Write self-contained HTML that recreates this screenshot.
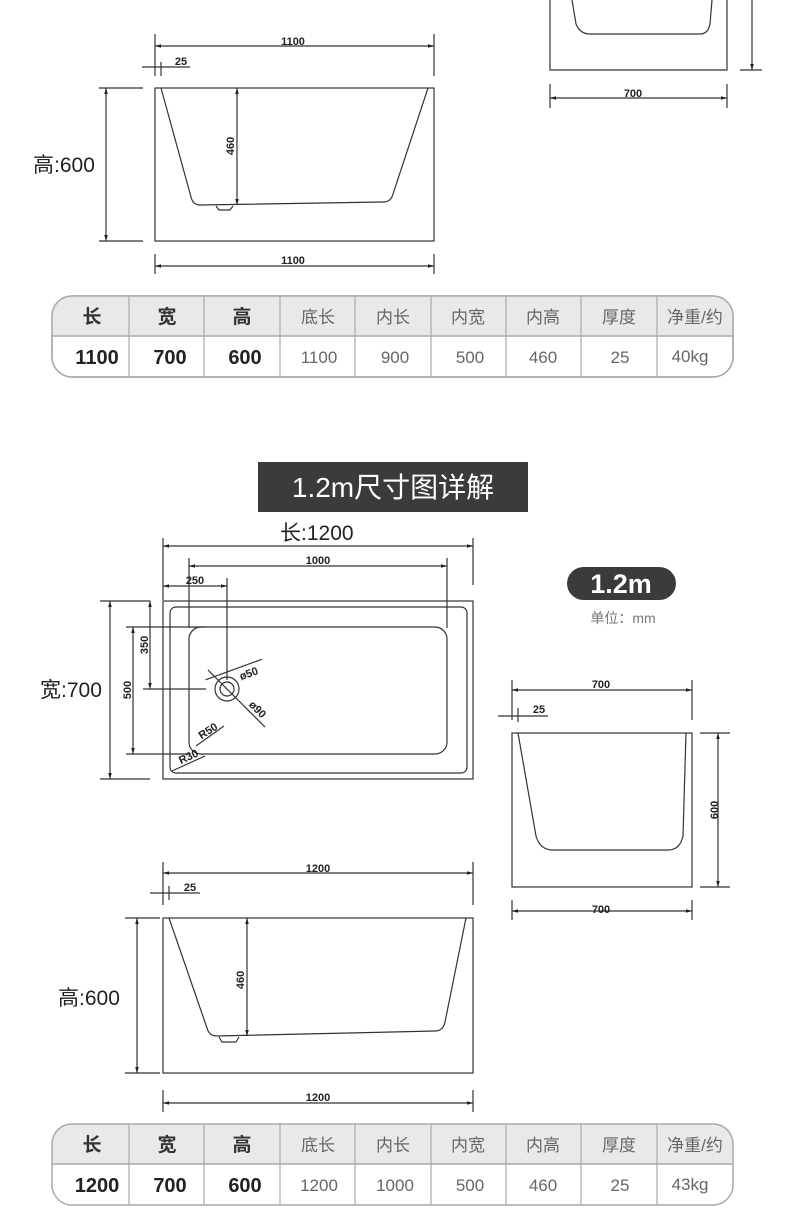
<!DOCTYPE html>
<html><head><meta charset="utf-8"><style>
html,body{margin:0;padding:0;background:#fff}
svg{display:block}
.d{font-family:"Liberation Sans",sans-serif;font-weight:bold;font-size:11px;fill:#222}
.lbl{font-family:"Liberation Sans","Noto Sans CJK SC",sans-serif;font-size:21px;fill:#222}
.th{font-family:"Liberation Sans","Noto Sans CJK SC",sans-serif;font-size:17px;fill:#666}
.thb{font-family:"Liberation Sans","Noto Sans CJK SC",sans-serif;font-size:19px;font-weight:bold;fill:#333}
.tdb{font-family:"Liberation Sans",sans-serif;font-size:20px;font-weight:bold;fill:#222}
.td{font-family:"Liberation Sans",sans-serif;font-size:17px;fill:#666}
</style></head><body>
<svg width="790" height="1222" viewBox="0 0 790 1222" xmlns="http://www.w3.org/2000/svg">
<defs><marker id="a" viewBox="0 0 10 10" refX="10" refY="5" markerWidth="5" markerHeight="5" orient="auto-start-reverse"><path d="M0,2 L10,5 L0,8z" fill="#222"/></marker></defs>
<g stroke="#333" stroke-width="1.2" fill="none">
<!-- top right partial -->
<path d="M550,0 V70 H727 V0"/>
<path d="M572,0 L576,24 Q580,34 590,34 H700 Q708,34 710,24 L712,0"/>
<line x1="752" y1="0" x2="752" y2="70" marker-end="url(#a)"/>
<line x1="740" y1="70" x2="762" y2="70"/>
<line x1="550" y1="84" x2="550" y2="108"/><line x1="727" y1="84" x2="727" y2="108"/>
<line x1="550" y1="98" x2="727" y2="98" marker-start="url(#a)" marker-end="url(#a)"/>
<!-- top side view 1100 -->
<line x1="155" y1="34" x2="155" y2="76"/><line x1="434" y1="34" x2="434" y2="76"/>
<line x1="155" y1="46" x2="434" y2="46" marker-start="url(#a)" marker-end="url(#a)"/>
<line x1="142" y1="67" x2="190" y2="67"/><line x1="161" y1="62" x2="161" y2="76"/>
<rect x="155" y="88" width="279" height="153"/>
<path d="M161,88 L191,197 Q193,205 200,205 L383,202 Q391,202 393,194 L428,88"/>
<path d="M216,206 L219,210 H230 L233,206"/>
<line x1="237" y1="88" x2="237" y2="205" marker-start="url(#a)" marker-end="url(#a)"/>
<line x1="99" y1="88" x2="143" y2="88"/><line x1="99" y1="241" x2="143" y2="241"/>
<line x1="106" y1="88" x2="106" y2="241" marker-start="url(#a)" marker-end="url(#a)"/>
<line x1="155" y1="254" x2="155" y2="274"/><line x1="434" y1="254" x2="434" y2="274"/>
<line x1="155" y1="266" x2="434" y2="266" marker-start="url(#a)" marker-end="url(#a)"/>
</g>
<text class="d" x="293" y="45" text-anchor="middle">1100</text>
<text class="d" x="181" y="65" text-anchor="middle">25</text>
<text class="d" x="633" y="97" text-anchor="middle">700</text>
<text class="d" transform="translate(234,146) rotate(-90)" text-anchor="middle">460</text>
<text class="d" x="293" y="264" text-anchor="middle">1100</text>
<text class="lbl" x="33" y="172">高:600</text>

<!-- table 1 -->
<g>
<rect x="52" y="296" width="681" height="81" rx="20" fill="#fff" stroke="#aaa" stroke-width="1.5"/>
<path d="M72,296 H713 Q733,296 733,316 V336 H52 V316 Q52,296 72,296z" fill="#e9e9e9"/>
<rect x="52" y="296" width="681" height="81" rx="20" fill="none" stroke="#aaa" stroke-width="1.5"/>
<line x1="52" y1="336" x2="733" y2="336" stroke="#aaa" stroke-width="1.5"/>
<g stroke="#aaa" stroke-width="1.2"><line x1="129" y1="296" x2="129" y2="377"/><line x1="204" y1="296" x2="204" y2="377"/><line x1="280" y1="296" x2="280" y2="377"/><line x1="355" y1="296" x2="355" y2="377"/><line x1="431" y1="296" x2="431" y2="377"/><line x1="506" y1="296" x2="506" y2="377"/><line x1="581" y1="296" x2="581" y2="377"/><line x1="657" y1="296" x2="657" y2="377"/></g>
<g text-anchor="middle">
<text class="thb" x="92" y="323">长</text><text class="thb" x="167" y="323">宽</text><text class="thb" x="242" y="323">高</text>
<text class="th" x="318" y="323">底长</text><text class="th" x="393" y="323">内长</text><text class="th" x="468" y="323">内宽</text><text class="th" x="543" y="323">内高</text><text class="th" x="619" y="323">厚度</text><text class="th" x="695" y="323">净重/约</text>
<text class="tdb" x="97" y="364">1100</text><text class="tdb" x="170" y="364">700</text><text class="tdb" x="245" y="364">600</text>
<text class="td" x="319" y="363">1100</text><text class="td" x="395" y="363">900</text><text class="td" x="470" y="363">500</text><text class="td" x="543" y="363">460</text><text class="td" x="620" y="363">25</text><text class="td" x="690" y="362" font-size="15">40kg</text>
</g></g>

<!-- title -->
<rect x="258" y="462" width="270" height="50" fill="#3b3b3b"/>
<text x="393" y="497" text-anchor="middle" font-family="Liberation Sans,Noto Sans CJK SC,sans-serif" font-size="28" fill="#fff">1.2m尺寸图详解</text>
<text class="lbl" x="280" y="540">长:1200</text>

<g stroke="#333" stroke-width="1.2" fill="none">
<line x1="163" y1="538" x2="163" y2="600"/><line x1="473" y1="538" x2="473" y2="585"/>
<line x1="163" y1="546" x2="473" y2="546" marker-start="url(#a)" marker-end="url(#a)"/>
<line x1="189" y1="558" x2="189" y2="628"/><line x1="447" y1="558" x2="447" y2="628"/>
<line x1="189" y1="566" x2="447" y2="566" marker-start="url(#a)" marker-end="url(#a)"/>
<line x1="227" y1="578" x2="227" y2="680"/>
<line x1="163" y1="586" x2="227" y2="586" marker-start="url(#a)" marker-end="url(#a)"/>
<rect x="163" y="601" width="310" height="178"/>
<rect x="170" y="607" width="297" height="166" rx="6"/>
<rect x="189" y="627" width="258" height="127" rx="12"/>
<circle cx="227" cy="689" r="12"/><circle cx="227" cy="689" r="7"/>
<line x1="100" y1="601" x2="150" y2="601"/><line x1="100" y1="779" x2="150" y2="779"/>
<line x1="110" y1="601" x2="110" y2="779" marker-start="url(#a)" marker-end="url(#a)"/>
<line x1="150" y1="601" x2="150" y2="689" marker-start="url(#a)" marker-end="url(#a)"/>
<line x1="143" y1="689" x2="206" y2="689"/>
<line x1="126" y1="627" x2="205" y2="627"/><line x1="126" y1="754" x2="190" y2="754"/>
<line x1="133" y1="627" x2="133" y2="754" marker-start="url(#a)" marker-end="url(#a)"/>
<line x1="210" y1="673" x2="270" y2="673" transform="rotate(-20 227 689)"/>
<line x1="208" y1="670" x2="265" y2="727"/>
<line x1="196" y1="746" x2="224" y2="726"/>
<line x1="172" y1="771" x2="205" y2="756"/>
<!-- end view -->
<line x1="512" y1="680" x2="512" y2="720"/><line x1="692" y1="680" x2="692" y2="720"/>
<line x1="512" y1="690" x2="692" y2="690" marker-start="url(#a)" marker-end="url(#a)"/>
<line x1="498" y1="716" x2="548" y2="716"/><line x1="518" y1="708" x2="518" y2="722"/>
<rect x="512" y="733" width="180" height="154"/>
<path d="M518,733 L536,836 Q540,850 553,850 H668 Q680,850 683,836 L686,733"/>
<line x1="700" y1="733" x2="730" y2="733"/><line x1="700" y1="887" x2="730" y2="887"/>
<line x1="718" y1="733" x2="718" y2="887" marker-start="url(#a)" marker-end="url(#a)"/>
<line x1="512" y1="900" x2="512" y2="920"/><line x1="692" y1="900" x2="692" y2="920"/>
<line x1="512" y1="911" x2="692" y2="911" marker-start="url(#a)" marker-end="url(#a)"/>
<!-- side view -->
<line x1="163" y1="862" x2="163" y2="905"/><line x1="473" y1="862" x2="473" y2="905"/>
<line x1="163" y1="873" x2="473" y2="873" marker-start="url(#a)" marker-end="url(#a)"/>
<line x1="150" y1="893" x2="200" y2="893"/><line x1="169" y1="886" x2="169" y2="900"/>
<rect x="163" y="918" width="310" height="155"/>
<path d="M169,918 L207,1028 Q209,1036 217,1036 L435,1031 Q443,1031 445,1022 L466,918"/>
<path d="M219,1037 L222,1042 H236 L239,1037"/>
<line x1="247" y1="918" x2="247" y2="1036" marker-start="url(#a)" marker-end="url(#a)"/>
<line x1="125" y1="918" x2="160" y2="918"/><line x1="125" y1="1073" x2="160" y2="1073"/>
<line x1="137" y1="918" x2="137" y2="1073" marker-start="url(#a)" marker-end="url(#a)"/>
<line x1="163" y1="1090" x2="163" y2="1112"/><line x1="473" y1="1090" x2="473" y2="1112"/>
<line x1="163" y1="1103" x2="473" y2="1103" marker-start="url(#a)" marker-end="url(#a)"/>
</g>
<text class="d" x="318" y="564" text-anchor="middle">1000</text>
<text class="d" x="195" y="584" text-anchor="middle">250</text>
<text class="d" transform="translate(148,645) rotate(-90)" text-anchor="middle">350</text>
<text class="d" transform="translate(131,690) rotate(-90)" text-anchor="middle">500</text>
<text class="d" transform="translate(250,677) rotate(-20)" text-anchor="middle">ø50</text>
<text class="d" transform="translate(255,712) rotate(45)" text-anchor="middle">ø90</text>
<text class="d" transform="translate(210,734) rotate(-33)" text-anchor="middle">R50</text>
<text class="d" transform="translate(190,760) rotate(-25)" text-anchor="middle">R30</text>
<text class="lbl" x="40" y="697">宽:700</text>
<rect x="567" y="567" width="109" height="33" rx="16.5" fill="#3b3b3b"/>
<text x="621" y="593" text-anchor="middle" font-family="Liberation Sans,sans-serif" font-size="27" font-weight="bold" fill="#fff">1.2m</text>
<text x="623" y="623" text-anchor="middle" font-family="Liberation Sans,Noto Sans CJK SC,sans-serif" font-size="14" fill="#777">单位：mm</text>
<text class="d" x="601" y="688" text-anchor="middle">700</text>
<text class="d" x="539" y="713" text-anchor="middle">25</text>
<text class="d" transform="translate(718,810) rotate(-90)" text-anchor="middle">600</text>
<text class="d" x="601" y="913" text-anchor="middle">700</text>
<text class="d" x="318" y="872" text-anchor="middle">1200</text>
<text class="d" x="190" y="891" text-anchor="middle">25</text>
<text class="d" transform="translate(244,980) rotate(-90)" text-anchor="middle">460</text>
<text class="lbl" x="58" y="1005">高:600</text>
<text class="d" x="318" y="1101" text-anchor="middle">1200</text>

<!-- table 2 -->
<g>
<path d="M72,1124 H713 Q733,1124 733,1144 V1164 H52 V1144 Q52,1124 72,1124z" fill="#e9e9e9"/>
<rect x="52" y="1124" width="681" height="81" rx="20" fill="none" stroke="#aaa" stroke-width="1.5"/>
<line x1="52" y1="1164" x2="733" y2="1164" stroke="#aaa" stroke-width="1.5"/>
<g stroke="#aaa" stroke-width="1.2"><line x1="129" y1="1124" x2="129" y2="1205"/><line x1="204" y1="1124" x2="204" y2="1205"/><line x1="280" y1="1124" x2="280" y2="1205"/><line x1="355" y1="1124" x2="355" y2="1205"/><line x1="431" y1="1124" x2="431" y2="1205"/><line x1="506" y1="1124" x2="506" y2="1205"/><line x1="581" y1="1124" x2="581" y2="1205"/><line x1="657" y1="1124" x2="657" y2="1205"/></g>
<g text-anchor="middle">
<text class="thb" x="92" y="1151">长</text><text class="thb" x="167" y="1151">宽</text><text class="thb" x="242" y="1151">高</text>
<text class="th" x="318" y="1151">底长</text><text class="th" x="393" y="1151">内长</text><text class="th" x="468" y="1151">内宽</text><text class="th" x="543" y="1151">内高</text><text class="th" x="619" y="1151">厚度</text><text class="th" x="695" y="1151">净重/约</text>
<text class="tdb" x="97" y="1192">1200</text><text class="tdb" x="170" y="1192">700</text><text class="tdb" x="245" y="1192">600</text>
<text class="td" x="319" y="1191">1200</text><text class="td" x="395" y="1191">1000</text><text class="td" x="470" y="1191">500</text><text class="td" x="543" y="1191">460</text><text class="td" x="620" y="1191">25</text><text class="td" x="690" y="1190" font-size="15">43kg</text>
</g></g>
</svg>
</body></html>
